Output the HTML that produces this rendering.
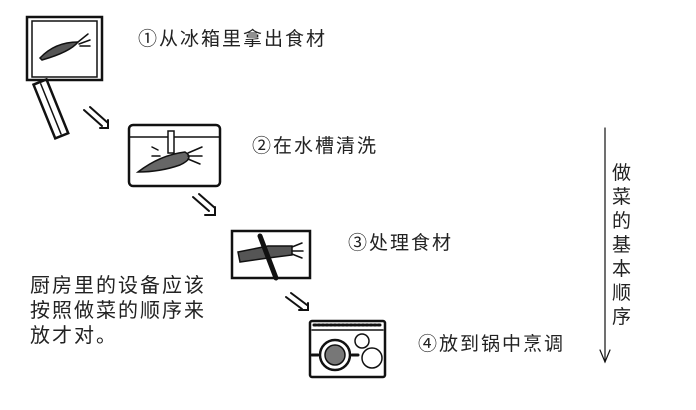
<!DOCTYPE html>
<html><head><meta charset="utf-8"><style>
body{margin:0;width:696px;height:410px;background:#fff;overflow:hidden;position:relative;font-family:"Liberation Sans","Noto Sans CJK SC",sans-serif;color:#222}
.t{position:absolute;font-size:19px;letter-spacing:2px;white-space:nowrap;line-height:1}
</style></head><body>
<svg width="696" height="410" style="position:absolute;left:0;top:0" fill="none" stroke="#111" stroke-width="2.5" stroke-linecap="round">
<rect x="27" y="17" width="75" height="63"/>
<rect x="32" y="21" width="65" height="56" stroke-width="1.5"/>
<path d="M40 58 Q55 42 78 42 Q70 52 42 60 Z" fill="#555" stroke-width="1.5"/>
<path d="M78 42 l10-8 M79 44 l11-4 M80 46 l10 0" stroke-width="1.5"/>
<g transform="rotate(-22 40 82)"><rect x="33" y="82" width="14" height="58"/><line x1="40" y1="84" x2="40" y2="138" stroke-width="1.5"/></g>
<g stroke-width="2"><path d="M84 110 l18 16 M90 107 l18 16 M100 128 l8 0 0 -8"/></g>
<g stroke-width="2"><path d="M193 197 l16 14 M199 194 l16 14 M205 215 l10 0 0 -8"/></g>
<g stroke-width="2"><path d="M286 297 l16 12 M291 293 l16 12 M299 310 l9 0 0 -7"/></g>
<rect x="129" y="125" width="91" height="61" rx="4"/>
<line x1="130" y1="137" x2="219" y2="137" stroke-width="1.5"/>
<rect x="168" y="131" width="6" height="22" fill="#fff" stroke-width="1.5"/>
<path d="M138 172 Q160 155 185 152 Q195 158 180 165 Q160 172 138 172Z" fill="#666" stroke-width="1.5"/>
<path d="M188 153 l14-6 M188 156 l14 0 M188 159 l12 5 M158 150 l-6-3 M160 156 l-8 0" stroke-width="1.5"/>
<rect x="232" y="231" width="78" height="47"/>
<path d="M238 252 L268 246 L292 246 L292 255 L268 258 L240 262 Z" fill="#555" stroke-width="1.5"/>
<path d="M292 247 l10-4 M292 251 l11 0 M292 254 l10 4" stroke-width="1.5"/>
<path d="M260 236 L276 278" stroke-width="5"/>
<rect x="310" y="321" width="75" height="56" rx="2"/>
<line x1="312" y1="330" x2="383" y2="330" stroke-width="1.5"/>
<path d="M314 325 h68" stroke-dasharray="2 2" stroke-width="3"/>
<circle cx="335" cy="355" r="15"/>
<circle cx="335" cy="355" r="10" fill="#777" stroke-width="1.5"/>
<path d="M318 355 h-6 M352 355 h6" stroke-width="3"/>
<circle cx="362" cy="341" r="7" stroke-width="1.5"/>
<circle cx="372" cy="358" r="10" stroke-width="1.5"/>
<line x1="605" y1="128" x2="605" y2="362" stroke-width="1.2"/>
<path d="M600 350 L605 362 L610 350" stroke-width="1.2"/>
</svg>
<div class="t" style="left:138px;top:30px">①从冰箱里拿出食材</div>
<div class="t" style="left:252px;top:137px">②在水槽清洗</div>
<div class="t" style="left:348px;top:234px">③处理食材</div>
<div class="t" style="left:418px;top:335px">④放到锅中烹调</div>
<div class="t" style="left:30px;top:274px;line-height:25px;font-size:20px">厨房里的设备应该<br>按照做菜的顺序来<br>放才对。</div>
<div class="t" style="left:612px;top:162px;width:20px;white-space:normal;line-height:24px;letter-spacing:0">做菜的基本顺序</div>
</body></html>
